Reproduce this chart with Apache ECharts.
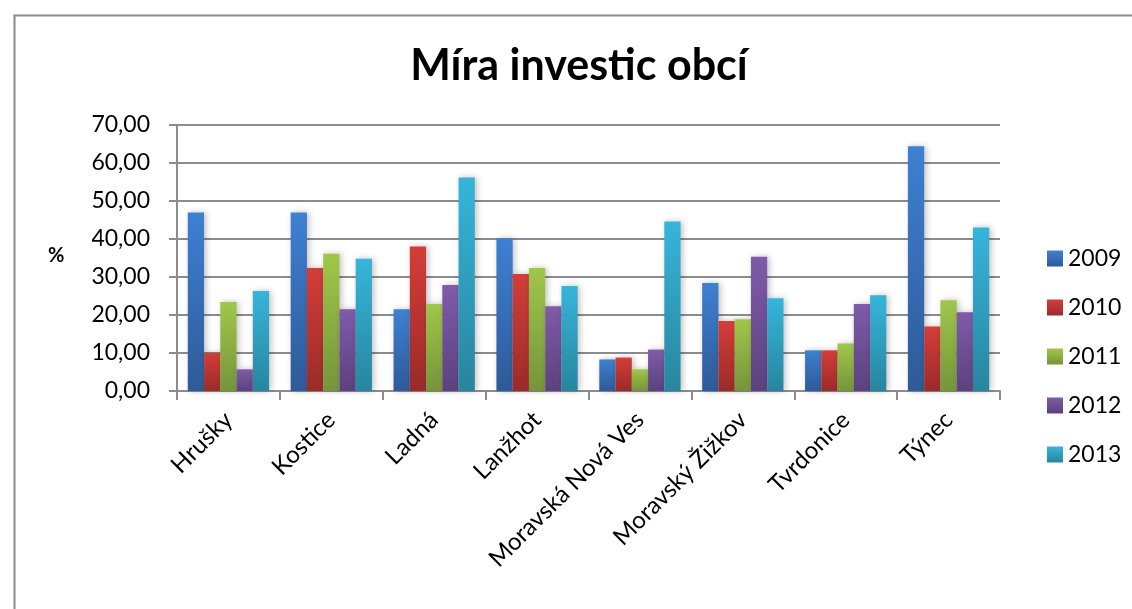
<!DOCTYPE html>
<html><head><meta charset="utf-8">
<script src="https://cdn.jsdelivr.net/npm/echarts@6/dist/echarts.min.js"></script>
<style>html,body{margin:0;padding:0;background:#fff}#c{width:1132px;height:609px}</style>
</head><body><div id="c"></div>
<script>
const categories = ["Hrušky","Kostice","Ladná","Lanžhot","Moravská Nová Ves","Moravský Žižkov","Tvrdonice","Týnec"];
const years = ["2009","2010","2011","2012","2013"];
const v2009 = [47.0, 47.0, 21.5, 40.1, 8.3, 28.4, 10.7, 64.4];
const v2010 = [10.0, 32.4, 38.0, 30.8, 8.8, 18.4, 10.7, 17.0];
const v2011 = [23.4, 36.1, 22.9, 32.4, 5.7, 18.9, 12.5, 23.9];
const v2012 = [5.7, 21.5, 27.9, 22.3, 10.9, 35.3, 22.9, 20.7];
const v2013 = [26.3, 34.8, 56.2, 27.6, 44.6, 24.4, 25.2, 43.0];
const yTicks = [0,10,20,30,40,50,60,70];

const seriesValues = [v2009, v2010, v2011, v2012, v2013];
const grads = [["#3e80d2","#2e5a98"],["#d43d39","#9a2b29"],["#a0c74a","#75953a"],["#7f5ba9","#5c417e"],["#36b5da","#28859e"]];
const font = "Lato, 'Open Sans', sans-serif";

const chart = echarts.init(document.getElementById('c'));
chart.setOption({
  animation: false,
  backgroundColor: '#fff',
  graphic: [{type:'rect', left:12, top:13, shape:{width:1140, height:620}, style:{fill:'none', stroke:'#8a8a8a', lineWidth:2}, silent:true},
            {type:'text', left:48, top:246, style:{text:'%', font:"bold 20px " + font, fill:'#000'}}],
  title: {text:'Míra investic obcí', left:574, textAlign:'center', top:40, textStyle:{fontFamily:font, fontWeight:'bold', fontSize:43, color:'#000'}},
  legend: {orient:'vertical', left:1042, top:242, itemGap:26, itemWidth:16, itemHeight:16, icon:'rect',
    textStyle:{fontFamily:font, fontSize:23, color:'#000'}, data: years},
  grid: {left:177, right:132, top:125, bottom:218, containLabel:false},
  xAxis: {type:'category', data:categories,
    axisLine:{lineStyle:{color:'#8c8c8c', width:2}},
    axisTick:{show:true, length:9, lineStyle:{color:'#8c8c8c', width:2}},
    axisLabel:{rotate:45, interval:0, margin:25, fontFamily:font, fontSize:24, color:'#000'}},
  yAxis: {type:'value', min:0, max:70, interval:10,
    axisLine:{show:true, lineStyle:{color:'#8c8c8c', width:2}},
    axisTick:{show:true, length:8, lineStyle:{color:'#8c8c8c', width:2}},
    splitLine:{lineStyle:{color:'#8c8c8c', width:2}},
    axisLabel:{margin:27, fontFamily:font, fontSize:23, color:'#000', formatter: v => yTicks.includes(v) ? v.toFixed(2).replace('.', ',') : ''}},
  series: seriesValues.map((vals, i) => ({
    name: years[i], type:'bar', data: vals, barGap:'0%', barCategoryGap:'21%',
    itemStyle:{color:new echarts.graphic.LinearGradient(0,0,0,1,[{offset:0,color:grads[i][0]},{offset:1,color:grads[i][1]}]),
      shadowColor:'rgba(0,0,0,0.25)', shadowBlur:6, shadowOffsetX:2}
  }))
});
</script></body></html>
